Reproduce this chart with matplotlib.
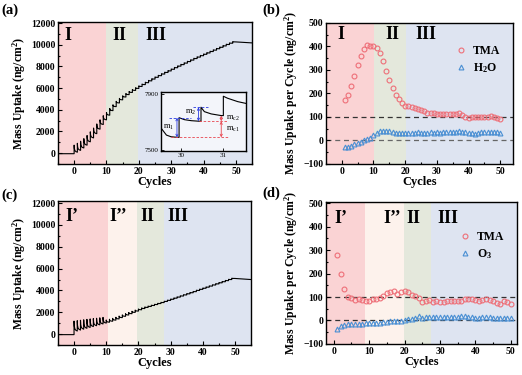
"""
QCM mass uptake: TMA/H2O vs TMA/O3 ALD
"""
import matplotlib.pyplot as plt
from matplotlib.ticker import MultipleLocator

plt.rcParams['font.family'] = ['Liberation Serif', 'DejaVu Serif']
plt.rcParams['font.weight'] = 'bold'
plt.rcParams['axes.labelweight'] = 'bold'
plt.rcParams['mathtext.default'] = 'regular'
plt.rcParams['axes.linewidth'] = 1.0

# ---- data ----
cycles = list(range(1, 51))

# (b) TMA / H2O mass gain per cycle (ng/cm2)
b_tma = [170, 192, 232, 275, 320, 360, 388, 405, 402, 400,
         395, 372, 337, 297, 257, 222, 193, 177, 157, 148,
         145, 142, 138, 133, 128, 123, 118, 115, 115, 113,
         112, 112, 112, 112, 113, 112, 115, 108, 100, 96,
         100, 100, 98, 98, 98, 100, 102, 100, 95, 92]
b_h2o = [-30, -27, -22, -17, -12, -6, 0, 5, 12, 22,
         32, 38, 42, 42, 40, 37, 33, 30, 31, 32,
         33, 33, 33, 34, 32, 31, 33, 34, 33, 34,
         33, 34, 34, 35, 36, 35, 38, 36, 35, 33,
         30, 27, 30, 35, 36, 35, 34, 35, 34, 33]

# (d) TMA / O3 mass gain per cycle (ng/cm2)
d_tma = [278, 198, 135, 102, 95, 88, 92, 88, 83, 84,
         90, 92, 96, 105, 118, 122, 125, 115, 120, 125,
         122, 110, 105, 95, 80, 85, 88, 78, 85, 80,
         80, 82, 85, 85, 85, 84, 90, 90, 92, 88,
         82, 88, 92, 86, 83, 75, 72, 82, 78, 72]
d_o3 = [-38, -25, -18, -15, -15, -14, -15, -14, -13, -12,
        -11, -10, -9, -8, -5, -4, -3, -2, -2, 0,
        5, 8, 10, 18, 12, 15, 16, 15, 15, 14,
        15, 15, 15, 16, 16, 18, 17, 16, 15, 12,
        12, 13, 14, 14, 12, 11, 10, 10, 10, 10]

# (a) mass at the start of cycles 0..50, and TMA spike overshoot of cycles 0..49
a_level = [-60, 80, 250, 470, 730, 1040, 1400, 1790, 2210, 2640,
           3070, 3500, 3920, 4290, 4630, 4920, 5180, 5400, 5600, 5790,
           5970, 6150, 6325, 6500, 6670, 6835, 6995, 7150, 7300, 7445,
           7590, 7740, 7885, 8030, 8170, 8310, 8450, 8590, 8730, 8865,
           8995, 9125, 9250, 9380, 9510, 9640, 9770, 9900, 10030, 10150, 10270]
a_over = [650, 650, 620, 600, 580, 560, 520, 480, 430, 380,
          250, 200, 170, 150, 130, 110, 100, 90, 80, 70,
          60, 55, 50, 45, 40, 40, 35, 35, 30, 30,
          30, 30, 30, 30, 30, 30, 30, 30, 30, 30,
          30, 30, 30, 30, 30, 30, 30, 30, 30, 30]
a_pre = (-5, -60)
a_post = (55, 10180)

# (c) same for TMA/O3
c_level = [-50, 280, 370, 450, 530, 610, 690, 770, 850, 930,
           1010, 1090, 1180, 1280, 1390, 1510, 1630, 1750, 1870, 1990,
           2110, 2230, 2340, 2440, 2530, 2620, 2710, 2800, 2890, 2990,
           3090, 3190, 3290, 3390, 3490, 3590, 3690, 3790, 3890, 4000,
           4100, 4200, 4300, 4400, 4500, 4600, 4700, 4800, 4900, 5000, 5100]
c_over = [910, 860, 820, 780, 740, 700, 650, 600, 560, 520,
          200, 180, 160, 150, 140, 130, 120, 110, 100, 90,
          70, 60, 50, 40, 30, 20, 20, 20, 20, 20,
          20, 20, 20, 20, 20, 20, 20, 20, 20, 20,
          20, 20, 20, 20, 20, 20, 20, 20, 20, 20]
c_pre = (-5, -50)
c_post = (55, 5000)

# inset of (a): cycles 30-31 in detail
ins_t = [29.51, 29.54, 29.65, 29.76, 29.92, 29.95, 29.95, 30.08, 30.24, 30.43, 30.47,
         30.47, 30.55, 30.71, 30.95, 31.0, 31.0, 31.1, 31.34, 31.54]
ins_m = [7660, 7649, 7606, 7594, 7590, 7590, 7729, 7715, 7708, 7704, 7704,
         7803, 7772, 7756, 7744, 7744, 7881, 7867, 7843, 7830]

# shaded regions (x0, x1, colour) per panel
c_I, c_I2, c_II, c_III = '#FAD3D4', '#FDF2EC', '#E4E8DC', '#DEE4F1'
a_regions = [(-5, 9.7, c_I), (9.7, 19.8, c_II), (19.8, 55, c_III)]
b_regions = [(-5, 10.2, c_I), (10.2, 20.3, c_II), (20.3, 54, c_III)]
c_regions = [(-5, 10.5, c_I), (10.5, 19.7, c_I2), (19.7, 28.0, c_II), (28.0, 55, c_III)]
d_regions = [(-2.2, 8.8, c_I), (8.8, 19.9, c_I2), (19.9, 27.4, c_II), (27.4, 51.7, c_III)]

# decay shape of a pulse within one cycle
decay_t = [0.08, 0.25, 0.55, 1.0]
decay_m = [0.5, 0.22, 0.08, 0.0]


def trace(levels, overs, pre, post):
    t = [pre[0], 0]
    m = [pre[1], levels[0]]
    for n, ov in enumerate(overs):
        t += [n] + [n + f for f in decay_t]
        m += [levels[n + 1] + ov] + [levels[n + 1] + ov * g for g in decay_m]
    t.append(post[0])
    m.append(post[1])
    return t, m


def shade(ax, regions):
    for x0, x1, col in regions:
        ax.axvspan(x0, x1, color=col, lw=0, zorder=0)


def style(ax, ymin, ymax, ymaj, ymin_step, xlim):
    ax.set_xlim(*xlim)
    ax.set_ylim(ymin, ymax)
    ax.xaxis.set_major_locator(MultipleLocator(10))
    ax.xaxis.set_minor_locator(MultipleLocator(5))
    ax.yaxis.set_major_locator(MultipleLocator(ymaj))
    ax.yaxis.set_minor_locator(MultipleLocator(ymin_step))
    ax.tick_params(which='both', direction='in', labelsize=7, width=0.8, pad=2)
    ax.tick_params(which='major', length=3)
    ax.tick_params(which='minor', length=1.5)
    ax.set_xlabel('Cycles', fontsize=9, labelpad=0)


fig = plt.figure(figsize=(5.22, 3.75), dpi=100)
ax_a = fig.add_axes([0.111, 0.563, 0.372, 0.378])
ax_b = fig.add_axes([0.6245, 0.563, 0.358, 0.376])
ax_c = fig.add_axes([0.111, 0.080, 0.370, 0.384])
ax_d = fig.add_axes([0.6245, 0.083, 0.3655, 0.378])

# (a)
shade(ax_a, a_regions)
ta, ma = trace(a_level, a_over, a_pre, a_post)
ax_a.plot(ta, ma, color='black', lw=0.8)
style(ax_a, -1000, 12100, 2000, 1000, (-5, 55))
ax_a.set_ylabel('Mass Uptake (ng/cm$^2$)', fontsize=8.5, labelpad=2)
for x, s in [(-1.8, 'I'), (13.9, 'II'), (25.2, 'III')]:
    ax_a.text(x, 10870, s, fontsize=13, ha='center', va='center')

ins = fig.add_axes([0.3075, 0.598, 0.164, 0.157])
ins.set_facecolor('#F3F5FA')
ins.plot(ins_t, ins_m, color='black', lw=0.8)
ins.set_xlim(29.51, 31.54)
ins.set_ylim(7495, 7912)
ins.set_xticks([30, 31])
ins.set_yticks([7500, 7900])
ins.tick_params(direction='in', labelsize=5, length=2, width=0.6, pad=1.5)
for lab in ins.get_xticklabels() + ins.get_yticklabels():
    lab.set_fontweight('normal')
blue, red = '#2B3BE0', '#E8454F'
ins.plot([29.72, 30.24], [7729, 7729], ls='--', color=blue, lw=0.6, dashes=(3, 2))
ins.plot([30.28, 30.67], [7803, 7803], ls='--', color=blue, lw=0.6, dashes=(3, 2))
ins.plot([29.76, 31.1], [7590, 7590], ls='--', color=red, lw=0.6, dashes=(3, 2))
ins.plot([30.43, 31.1], [7704, 7704], ls='--', color=red, lw=0.6, dashes=(3, 2))
arr = dict(arrowstyle='<->', lw=0.6, shrinkA=0, shrinkB=0, mutation_scale=4)
ins.annotate('', xy=(29.9, 7729), xytext=(29.9, 7590), arrowprops=dict(arr, color=blue))
ins.annotate('', xy=(30.41, 7803), xytext=(30.41, 7704), arrowprops=dict(arr, color=blue))
ins.annotate('', xy=(30.95, 7704), xytext=(30.95, 7590), arrowprops=dict(arr, color=red))
ins.annotate('', xy=(30.95, 7744), xytext=(30.95, 7704), arrowprops=dict(arr, color=red))
for x, y, s in [(29.7, 7661, 'm$_1$'), (30.22, 7768, 'm$_2$'),
                (31.22, 7649, 'm$_{c1}$'), (31.22, 7725, 'm$_{c2}$')]:
    ins.text(x, y, s, fontsize=6, fontweight='normal', ha='center', va='center')

# (b)
shade(ax_b, b_regions)
ax_b.axhline(100, color='#333333', lw=0.9, ls='--', dashes=(4, 3), zorder=1)
ax_b.axhline(0, color='#666666', lw=0.9, ls='--', dashes=(4, 3), zorder=1)
ax_b.plot(cycles, b_tma, 'o', mfc='none', mec='#EE6F78', ms=3.5, mew=0.8, label='TMA')
ax_b.plot(cycles, b_h2o, '^', mfc='none', mec='#4A8FD3', ms=3.5, mew=0.8, label='H$_2$O')
style(ax_b, -100, 500, 100, 50, (-5, 54))
ax_b.set_ylabel('Mass Uptake per Cycle (ng/cm$^2$)', fontsize=8.5, labelpad=2)
for x, s in [(-0.3, 'I'), (15.9, 'II'), (26.6, 'III')]:
    ax_b.text(x, 450, s, fontsize=13, ha='center', va='center')
ax_b.legend(loc='upper right', bbox_to_anchor=(0.99, 0.92), frameon=False, fontsize=8.5,
            handlelength=1.0, handletextpad=0.5, labelspacing=0.35)

# (c)
shade(ax_c, c_regions)
tc, mc = trace(c_level, c_over, c_pre, c_post)
ax_c.plot(tc, mc, color='black', lw=0.8)
style(ax_c, -1000, 12200, 2000, 1000, (-5, 55))
ax_c.set_ylabel('Mass Uptake (ng/cm$^2$)', fontsize=8.5, labelpad=2)
for x, s in [(-0.7, 'I’'), (13.6, 'I’’'), (22.8, 'II'), (32.2, 'III')]:
    ax_c.text(x, 10770, s, fontsize=13, ha='center', va='center')

# (d)
shade(ax_d, d_regions)
ax_d.axhline(100, color='#333333', lw=0.9, ls='--', dashes=(4, 3), zorder=1)
ax_d.axhline(0, color='#333333', lw=0.9, ls='--', dashes=(4, 3), zorder=1)
ax_d.plot(cycles, d_tma, 'o', mfc='none', mec='#EE6F78', ms=3.5, mew=0.8, label='TMA')
ax_d.plot(cycles, d_o3, '^', mfc='none', mec='#4A8FD3', ms=3.5, mew=0.8, label='O$_3$')
style(ax_d, -100, 505, 100, 50, (-2.2, 51.7))
ax_d.set_ylabel('Mass Uptake per Cycle (ng/cm$^2$)', fontsize=8.5, labelpad=2)
for x, s in [(2.1, 'I’'), (16.6, 'I’’'), (22.6, 'II'), (32.1, 'III')]:
    ax_d.text(x, 436, s, fontsize=13, ha='center', va='center')
ax_d.legend(loc='upper right', bbox_to_anchor=(0.99, 0.87), frameon=False, fontsize=8.5,
            handlelength=1.0, handletextpad=0.5, labelspacing=0.35)

for x, y, s in [(0.003, 0.972, '(a)'), (0.503, 0.972, '(b)'),
                (0.003, 0.48, '(c)'), (0.503, 0.485, '(d)')]:
    fig.text(x, y, s, fontsize=10.5, ha='left', va='center')

fig.savefig('out.png', dpi=100, facecolor='white')
